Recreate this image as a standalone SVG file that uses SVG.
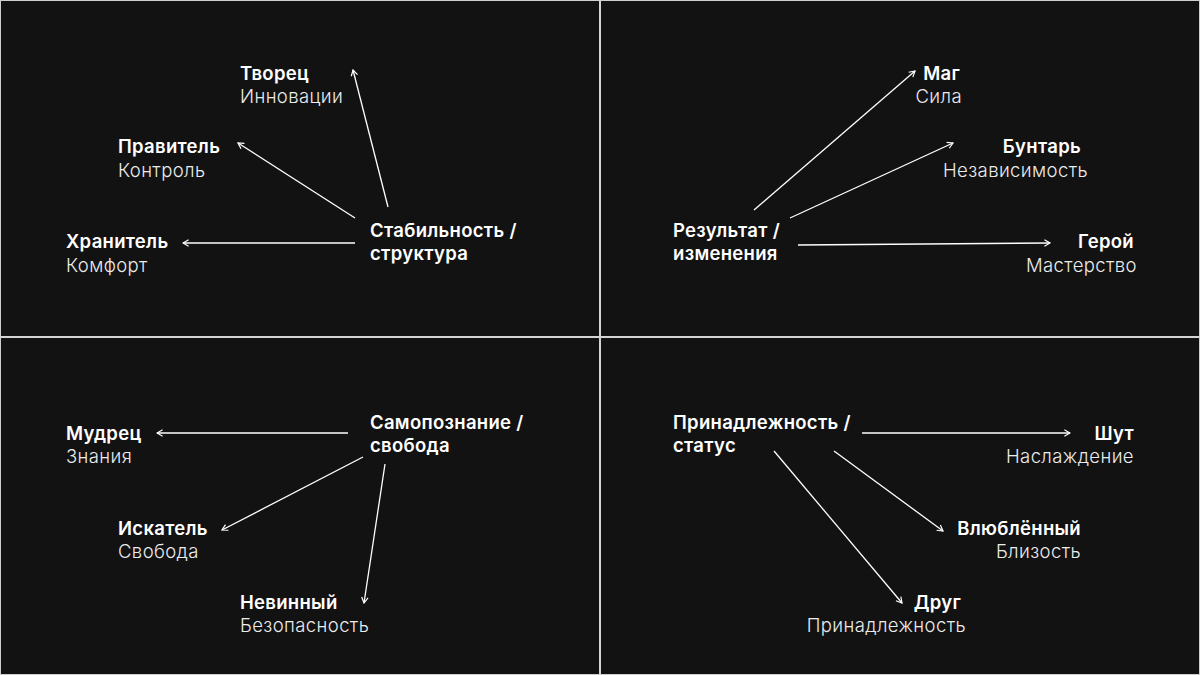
<svg xmlns="http://www.w3.org/2000/svg" width="1200" height="675" viewBox="0 0 1200 675">
<style>
.t{font-family:Inter,"Noto Sans","Liberation Sans",sans-serif;font-size:18.5px;font-weight:600;letter-spacing:0.3px;fill:#ffffff}
.s{font-family:Inter,"Noto Sans","Liberation Sans",sans-serif;font-size:18.5px;font-weight:300;letter-spacing:0.4px;fill:#ececec}
.e{text-anchor:end}
.c{stroke:#ffffff;stroke-width:1.3;fill:none;marker-end:url(#ah)}
</style>
<defs>
<marker id="ah" viewBox="0 0 10 10" refX="9" refY="5" markerWidth="8" markerHeight="8" markerUnits="userSpaceOnUse" orient="auto">
<path d="M2,1 L9,5 L2,9" fill="none" stroke="#ffffff" stroke-width="1.5"/>
</marker>
</defs>
<rect x="0" y="0" width="1200" height="675" fill="#121212"/>
<rect x="0.5" y="0.5" width="1199" height="674" fill="none" stroke="#cfcfcf" stroke-width="1"/>
<g id="dividers" stroke="#d4d4d4" stroke-width="2">
<line x1="600" y1="0" x2="600" y2="675"/>
<line x1="0" y1="337" x2="1200" y2="337"/>
</g>
<g id="connectors">
<line class="c" x1="388" y1="207" x2="353" y2="70"/>
<line class="c" x1="355" y1="218" x2="238" y2="143"/>
<line class="c" x1="355" y1="243" x2="183" y2="243"/>
<line class="c" x1="754" y1="210" x2="915" y2="71"/>
<line class="c" x1="790" y1="218" x2="953" y2="143"/>
<line class="c" x1="798" y1="245" x2="1050" y2="243"/>
<line class="c" x1="348" y1="433" x2="157" y2="433"/>
<line class="c" x1="363" y1="457" x2="222" y2="530"/>
<line class="c" x1="385" y1="464" x2="364" y2="603"/>
<line class="c" x1="862" y1="433" x2="1070" y2="433"/>
<line class="c" x1="834" y1="451" x2="943" y2="531"/>
<line class="c" x1="774" y1="451" x2="902" y2="603"/>
</g>
<g id="center-stability"><text class="t" x="370" y="237">Стабильность /</text><text class="t" x="370" y="260">структура</text></g>
<g id="node-tvorets"><text class="t" x="240" y="80">Творец</text><text class="s" x="240" y="103">Инновации</text></g>
<g id="node-pravitel"><text class="t" x="118" y="153">Правитель</text><text class="s" x="118" y="177">Контроль</text></g>
<g id="node-khranitel"><text class="t" x="66" y="248">Хранитель</text><text class="s" x="66" y="272">Комфорт</text></g>
<g id="center-result"><text class="t" x="673" y="237">Результат /</text><text class="t" x="673" y="260">изменения</text></g>
<g id="node-mag"><text class="t e" x="960" y="80">Маг</text><text class="s e" x="962" y="103">Сила</text></g>
<g id="node-buntar"><text class="t e" x="1081" y="153">Бунтарь</text><text class="s e" x="1088" y="177">Независимость</text></g>
<g id="node-geroy"><text class="t e" x="1134" y="248">Герой</text><text class="s e" x="1137" y="272">Мастерство</text></g>
<g id="center-self"><text class="t" x="370" y="429">Самопознание /</text><text class="t" x="370" y="452">свобода</text></g>
<g id="node-mudrets"><text class="t" x="66" y="440">Мудрец</text><text class="s" x="66" y="463">Знания</text></g>
<g id="node-iskatel"><text class="t" x="118" y="535">Искатель</text><text class="s" x="118" y="558">Свобода</text></g>
<g id="node-nevinny"><text class="t" x="240" y="609">Невинный</text><text class="s" x="240" y="632">Безопасность</text></g>
<g id="center-belong"><text class="t" x="673" y="429">Принадлежность /</text><text class="t" x="673" y="452">статус</text></g>
<g id="node-shut"><text class="t e" x="1134" y="440">Шут</text><text class="s e" x="1134" y="463">Наслаждение</text></g>
<g id="node-vlyublenny"><text class="t e" x="1081" y="535">Влюблённый</text><text class="s e" x="1081" y="558">Близость</text></g>
<g id="node-drug"><text class="t e" x="961" y="609">Друг</text><text class="s e" x="966" y="632">Принадлежность</text></g>
</svg>
